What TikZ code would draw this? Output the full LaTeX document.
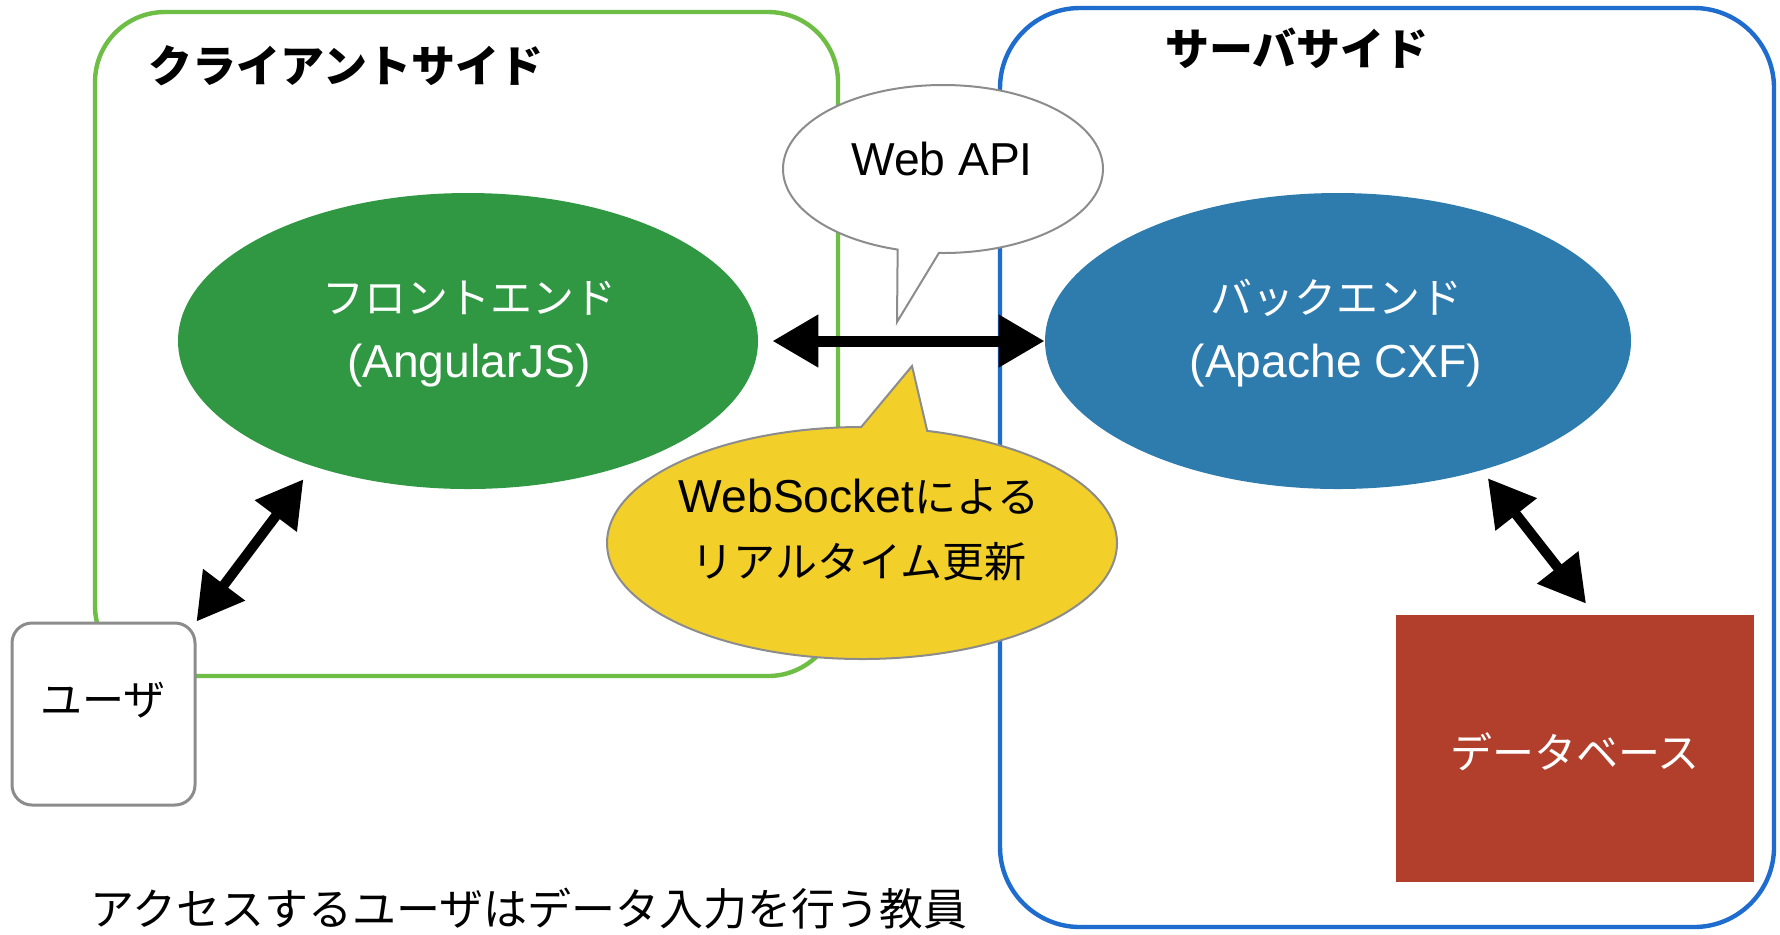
\documentclass[tikz,border=0pt]{standalone}
\usepackage{fontspec}
\setmainfont{Noto Sans CJK JP}
\newfontfamily\lat[Scale=1.1]{Liberation Sans}
\usetikzlibrary{shapes.geometric,shapes.callouts,arrows.meta}
\definecolor{boxgreen}{RGB}{110,190,70}
\definecolor{boxblue}{RGB}{30,108,205}
\definecolor{fegreen}{RGB}{48,152,66}
\definecolor{beblue}{RGB}{46,123,174}
\definecolor{bubyellow}{RGB}{243,207,42}
\definecolor{dbred}{RGB}{178,62,44}
\definecolor{outlinegray}{RGB}{140,140,140}
\begin{document}
\begin{tikzpicture}[x=0.5pt,y=-0.5pt,
  sidebox/.style={line width=2.2pt},
  comp/.style={ellipse, inner sep=0pt, minimum width=290pt, minimum height=148pt},
  bubble/.style={ellipse callout, draw=outlinegray, line width=1pt, inner sep=0pt, callout pointer arc=15},
  txt/.style={font=\fontsize{21pt}{25pt}\selectfont, inner sep=0pt},
  wtxt/.style={txt, text=white},
  titletxt/.style={font=\fontsize{22pt}{26pt}\selectfont\bfseries, inner sep=0pt},
  dbl/.style={{Triangle[length=23pt,width=25pt]}-{Triangle[length=23pt,width=25pt]}, line width=5.5pt},
  dbltwo/.style={{Triangle[length=23pt,width=25pt]}-{Triangle[length=23pt,width=25pt]}, line width=5pt},
]
\useasboundingbox (0,0) rectangle (1780,934);
\fill[white] (0,0) rectangle (1780,934);

% side boxes
\draw[sidebox, boxgreen, rounded corners=35pt] (95,12) rectangle (838,676);
\draw[sidebox, boxblue, rounded corners=40pt] (1000,8) rectangle (1774,927);
\node[titletxt] (cs) at (346,66) {クライアントサイド};
\node[titletxt] (ss) at (1297,48) {サーバサイド};

% components
\node[comp, fill=fegreen] (fe) at (468,341) {};
\node[wtxt] (fe1) at (469,298) {フロントエンド};
\node[wtxt] (fe2) at (469,366) {{\lat (AngularJS)}};

\node[comp, fill=beblue, minimum width=293pt] (be) at (1338,341) {};
\node[wtxt] (be1) at (1336,298) {バックエンド};
\node[wtxt] (be2) at (1336,366) {{\lat (Apache CXF)}};

% callouts
\node[bubble, fill=white, minimum width=160pt, minimum height=84pt,
      callout absolute pointer={(897,322)}] (api) at (943,169) {};
\node[txt] (apit) at (942,159) {{\lat Web API}};

\node[bubble, fill=bubyellow, minimum width=255pt, minimum height=116pt,
      callout absolute pointer={(912,366)}] (ws) at (862,543) {};
\node[txt] (ws1) at (859,497) {{\lat WebSocket}による};
\node[txt] (ws2) at (859,562) {リアルタイム更新};

% user and database
\node[draw=outlinegray, line width=1.5pt, rounded corners=10pt, fill=white,
      minimum width=91.5pt, minimum height=91pt, inner sep=0pt] (user) at (103.5,714) {};
\node[txt] (usert) at (103,700) {ユーザ};

\node[fill=dbred, minimum width=179pt, minimum height=133.5pt, inner sep=0pt] (db) at (1575,748.5) {};
\node[wtxt] (dbt) at (1575,752) {データベース};

% connectors
\draw[dbl, shorten <=7pt] (fe) -- (be);
\draw[dbltwo, shorten >=8pt] (user.north east) -- (fe.-141);
\draw[dbltwo, shorten <=5pt] (be.-42) -- ([xshift=5.5pt,yshift=5.5pt]db.north);

% note
\node[font=\fontsize{22pt}{26pt}\selectfont, anchor=west, inner sep=0pt] (note) at (90,909) {アクセスするユーザはデータ入力を行う教員};
\end{tikzpicture}
\end{document}
